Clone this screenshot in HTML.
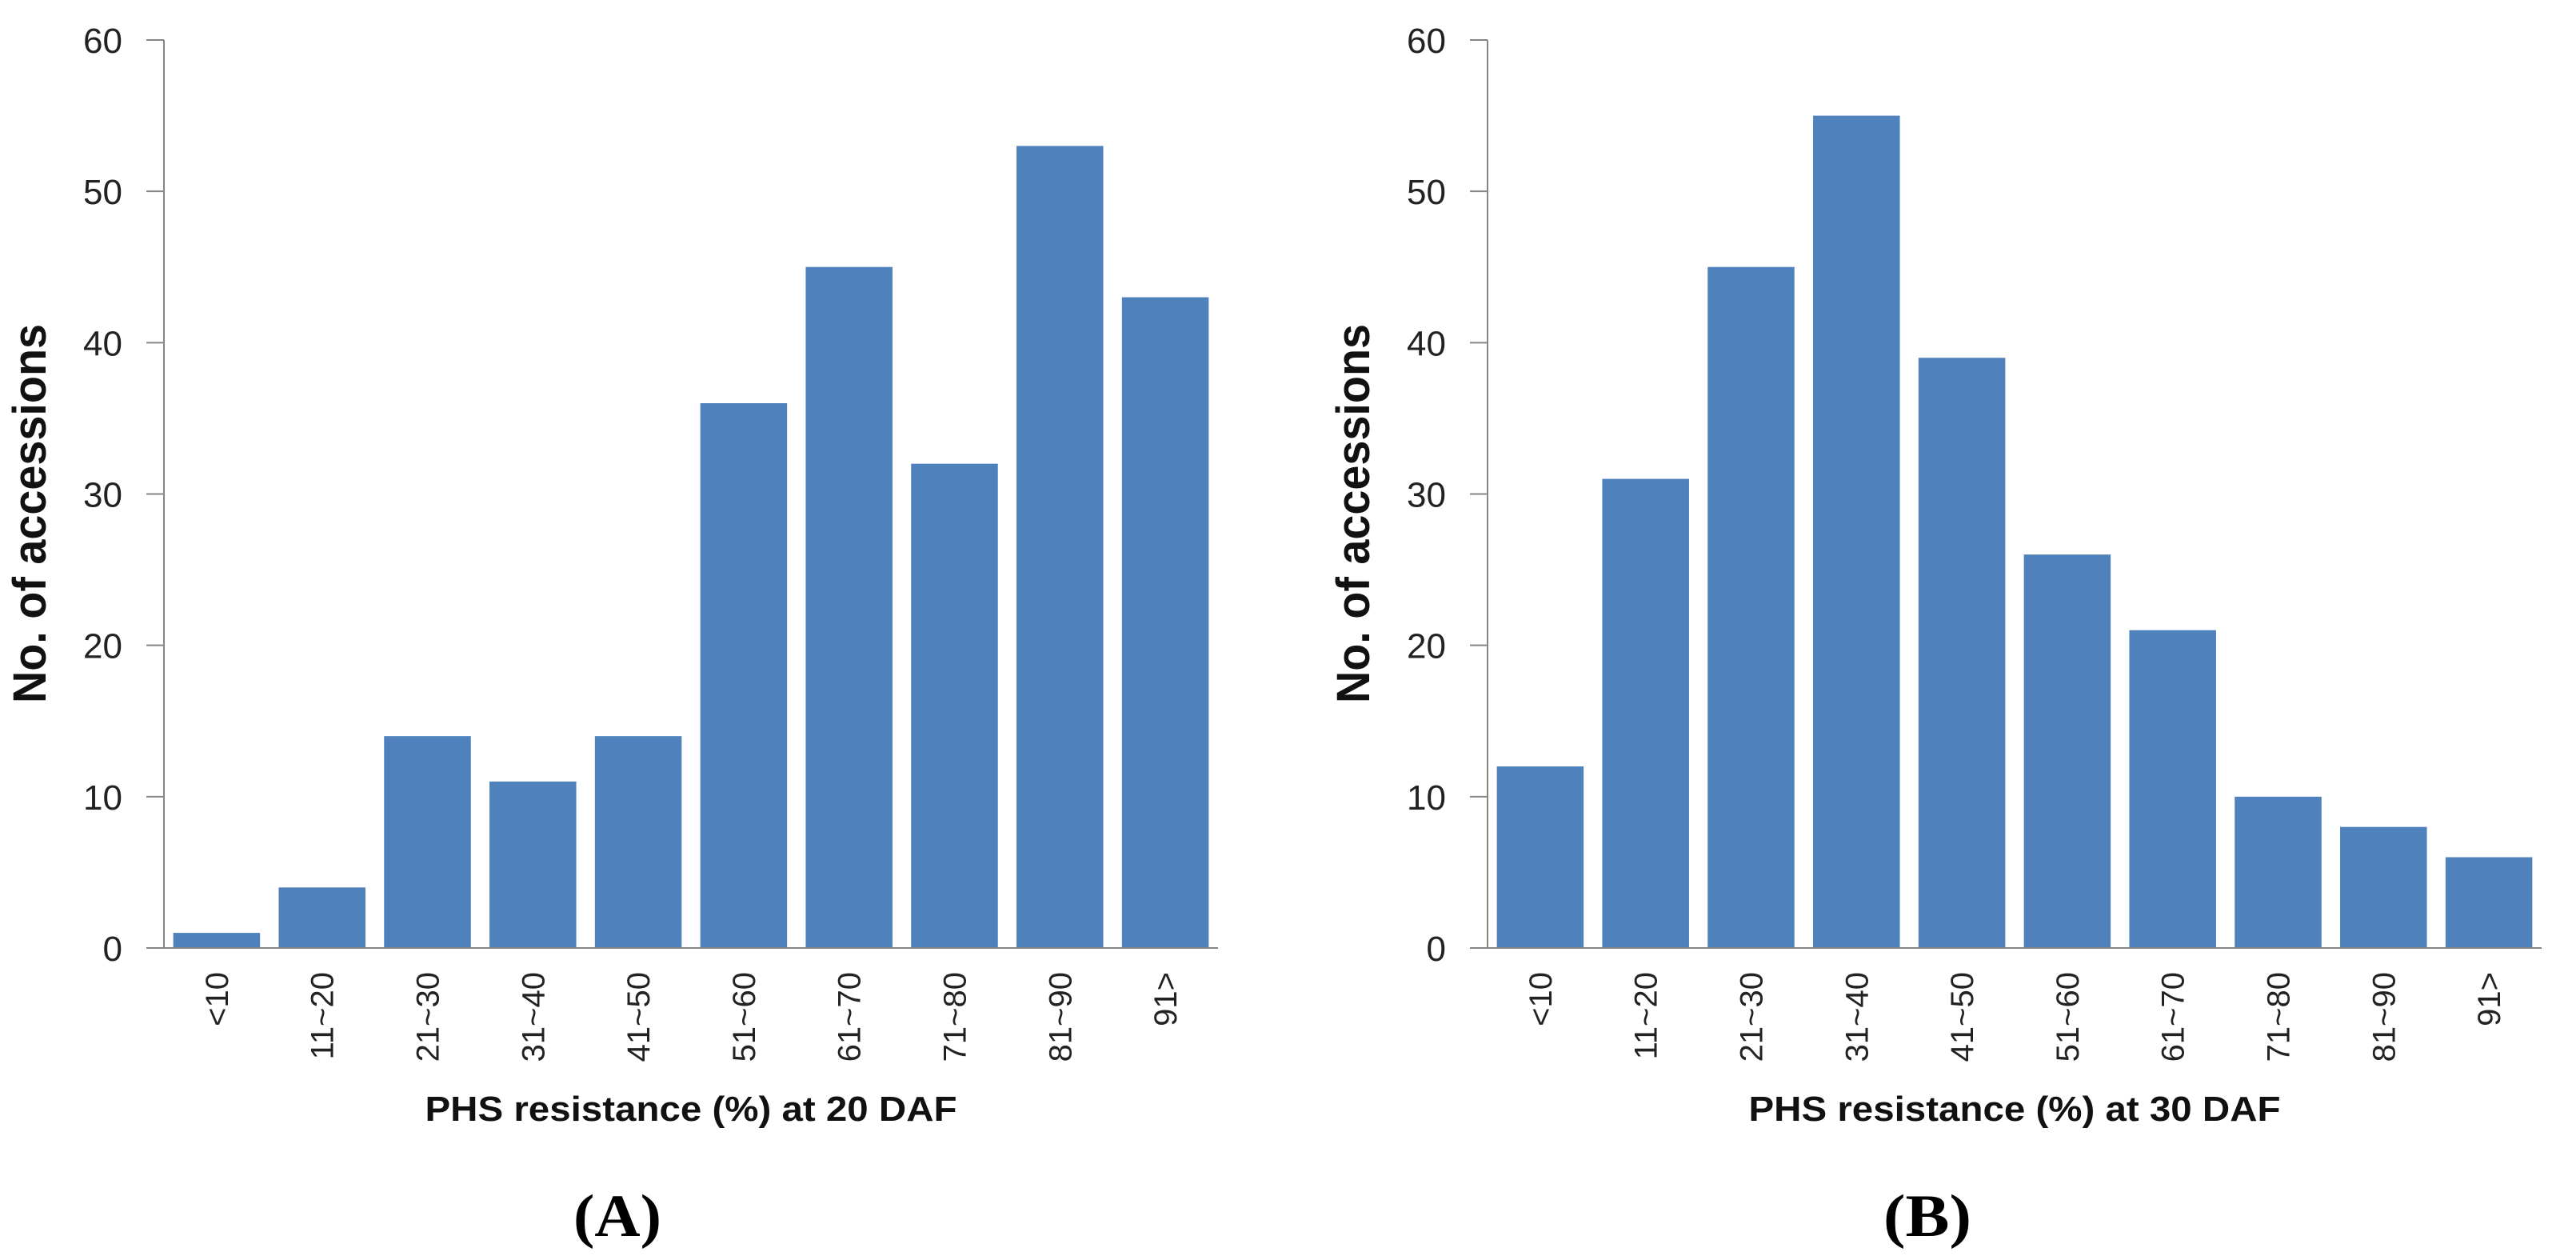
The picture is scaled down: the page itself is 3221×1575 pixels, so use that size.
<!DOCTYPE html>
<html><head><meta charset="utf-8"><style>
html,body{margin:0;padding:0;background:#fff;}
svg{display:block;}
text{font-family:"Liberation Sans",sans-serif;}
</style></head><body>
<svg id="fig" width="3221" height="1575" viewBox="0 0 3221 1575" xmlns="http://www.w3.org/2000/svg"></svg>
<script>
const categories = ["<10","11~20","21~30","31~40","41~50","51~60","61~70","71~80","81~90","91>"];
const valuesA = [1,4,14,11,14,36,45,32,53,43];
const valuesB = [12,31,45,55,39,26,21,10,8,6];
const yTicks = [0,10,20,30,40,50,60];
const titleA = "PHS resistance (%) at 20 DAF";
const titleB = "PHS resistance (%) at 30 DAF";

const NS = "http://www.w3.org/2000/svg";
const svg = document.getElementById("fig");
function mk(tag, attrs, parent){
  const e = document.createElementNS(NS, tag);
  for (const k in attrs) e.setAttribute(k, attrs[k]);
  (parent||svg).appendChild(e);
  return e;
}
const Y0 = 1185, Y60 = 50;
function yScale(v){ return Y0 - (v/60)*(Y0-Y60); }

function drawChart(id, axisX, values, title, panel, panelX){
  const plotW = 1318;
  const pitch = plotW / categories.length;
  const barW = 108.5;
  const xScale = i => axisX + pitch*i + pitch/2;
  const g = mk("g", {});
  
  

  values.forEach((v,i)=>{
    const r = mk("rect", {x: xScale(i)-barW/2, y: yScale(v), width: barW, height: Y0-yScale(v), fill:"#4F81BD"}, g);
    
    
  });

  const ax = mk("line", {x1:axisX, y1:Y60, x2:axisX, y2:Y0, stroke:"#868686", "stroke-width":2}, g);
  
  
  const bx = mk("line", {x1:axisX-22, y1:Y0, x2:axisX+plotW, y2:Y0, stroke:"#868686", "stroke-width":2}, g);
  
  

  yTicks.forEach(t=>{
    const y = yScale(t);
    mk("line", {x1:axisX-22, y1:y, x2:axisX, y2:y, stroke:"#868686", "stroke-width":2}, g);
    const tl = mk("text", {x:axisX-52, y:y+16, "text-anchor":"end", "font-size":44, fill:"#222"}, g);
    tl.textContent = t;
    
    
  });

  categories.forEach((c,i)=>{
    const cx = xScale(i) + 14;
    const tl = mk("text", {x:cx, y:1215, "text-anchor":"end", "font-size":40, fill:"#222",
      transform:"rotate(-90 "+cx+" 1215)"}, g);
    tl.textContent = c;
    
    
  });

  const xt = mk("text", {x:axisX+plotW/2, y:1401, "text-anchor":"middle", "font-size":44, "font-weight":"bold", fill:"#111",
    textLength:665, lengthAdjust:"spacingAndGlyphs"}, g);
  xt.textContent = title;
  
  

  const ytx = axisX - 148, yty = 642;
  const yt = mk("text", {x:ytx, y:yty, "text-anchor":"middle", "font-size":58, "font-weight":"bold", fill:"#111",
    textLength:474, lengthAdjust:"spacingAndGlyphs", transform:"rotate(-90 "+ytx+" "+yty+")"}, g);
  yt.textContent = "No. of accessions";
  
  

  const pl = mk("text", {x:panelX, y:1545, "text-anchor":"middle", "font-size":56, "font-weight":"bold", fill:"#000",
    textLength:110, lengthAdjust:"spacingAndGlyphs", transform:"translate(0 -1545) scale(1 2) translate(0 772.5)",
    style:"font-family:'Liberation Serif',serif"}, g);
  pl.setAttribute('transform', 'translate(0,' + (1545 - 1545*1.35) + ') scale(1,1.35)');
  pl.textContent = panel;
  
  
}
drawChart("a", 205, valuesA, titleA, "(A)", 772);
drawChart("b", 1860, valuesB, titleB, "(B)", 2410);
</script>
</body></html>
